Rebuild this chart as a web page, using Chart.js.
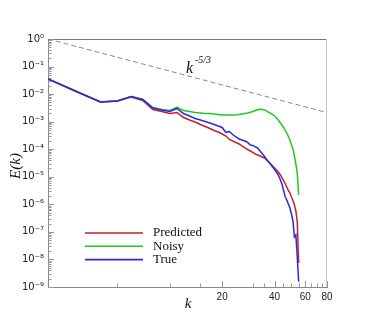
<!DOCTYPE html>
<html><head><meta charset="utf-8">
<script src="https://cdn.jsdelivr.net/npm/chart.js@4.4.1/dist/chart.umd.min.js"></script>
<style>html,body{margin:0;padding:0;background:#fff}</style>
</head><body>
<canvas id="c" width="366" height="325"></canvas>
<script>
// ---- data ----
const k = [2,3,4,5,6,7,8,9,10,11,12,13,14,15,16,17,18,19,20,21,22,23,24,25,26,27,28,29,30,31,32,33,34,35,36,37,38,39,40,41,42,43,44,45,46,47,48,49,50,51,52,53,54,55];
const predicted = [3.54e-2,1.15e-2,5.18e-3,5.63e-3,7.86e-3,5.87e-3,2.77e-3,2.34e-3,1.98e-3,2.15e-3,1.42e-3,1.15e-3,9.74e-4,7.90e-4,6.68e-4,5.66e-4,4.79e-4,4.22e-4,3.57e-4,3.02e-4,2.26e-4,1.99e-4,1.76e-4,1.55e-4,1.31e-4,1.11e-4,9.79e-5,8.64e-5,7.62e-5,6.72e-5,6.18e-5,5.69e-5,5.23e-5,4.81e-5,4.07e-5,3.44e-5,2.91e-5,2.47e-5,2.09e-5,1.77e-5,1.49e-5,1.21e-5,9.43e-6,7.34e-6,5.71e-6,4.27e-6,3.18e-6,2.58e-6,1.85e-6,1.38e-6,9.48e-7,5.74e-7,2.29e-7,7.46e-9];
const noisy = [3.54e-2,1.15e-2,5.18e-3,5.63e-3,8.20e-3,6.38e-3,3.27e-3,2.77e-3,2.54e-3,3.32e-3,2.54e-3,2.34e-3,2.15e-3,2.07e-3,1.98e-3,1.98e-3,1.90e-3,1.82e-3,1.75e-3,1.75e-3,1.75e-3,1.75e-3,1.78e-3,1.82e-3,1.90e-3,1.98e-3,2.07e-3,2.19e-3,2.34e-3,2.54e-3,2.72e-3,2.81e-3,2.74e-3,2.65e-3,2.48e-3,2.19e-3,2.01e-3,1.82e-3,1.61e-3,1.36e-3,1.15e-3,9.34e-4,7.58e-4,6.15e-4,4.79e-4,3.88e-4,2.90e-4,2.16e-4,1.43e-4,1.02e-4,5.69e-5,2.91e-5,1.37e-5,2.19e-6];
const trueE = [3.54e-2,1.15e-2,5.18e-3,5.63e-3,8.20e-3,6.38e-3,3.13e-3,2.65e-3,2.34e-3,3.01e-3,1.98e-3,1.61e-3,1.30e-3,1.15e-3,1.02e-3,8.96e-4,7.90e-4,6.97e-4,6.15e-4,4.10e-4,4.40e-4,3.43e-4,2.78e-4,2.35e-4,2.16e-4,1.99e-4,1.76e-4,1.43e-4,1.37e-4,1.21e-4,1.11e-4,8.64e-5,7.01e-5,5.45e-5,4.24e-5,3.44e-5,2.80e-5,2.27e-5,1.84e-5,1.49e-5,1.16e-5,8.32e-6,5.71e-6,3.32e-6,1.93e-6,1.44e-6,1.03e-6,7.38e-7,4.47e-7,2.49e-7,6.54e-8,7.73e-8,1.23e-8,1.56e-9];
const refK = [2, 80];
const refE = [1, 2.14e-3];
const xTicks = [20, 40, 60, 80];
const xMinorTicks = [5, 10, 15, 30, 35, 45, 50, 55, 65, 70, 75];
const yExponents = [0, -1, -2, -3, -4, -5, -6, -7, -8, -9];
const seriesLabels = ['Predicted', 'Noisy', 'True'];
const refLabel = ['k', '-5/3'];

const pts = (xs, ys) => xs.map((x, i) => ({x: x, y: ys[i]}));
const SUP = {'-':'\u207B','0':'\u2070','1':'\u00B9','2':'\u00B2','3':'\u00B3','4':'\u2074','5':'\u2075','6':'\u2076','7':'\u2077','8':'\u2078','9':'\u2079'};
const sup = s => String(s).split('').map(c => SUP[c] || c).join('');

const RED = '#c8202a', GREEN = '#22c822', BLUE = '#2a2ae0';

const decor = {
  id: 'decor',
  beforeDatasetsDraw(chart) {
    const {ctx, chartArea: a} = chart;
    const ys = chart.scales.y, xs = chart.scales.x;
    ctx.save();
    ctx.lineWidth = 1;
    ctx.strokeStyle = '#777';
    ctx.beginPath(); ctx.moveTo(a.left, a.top + 0.5); ctx.lineTo(a.right, a.top + 0.5); ctx.stroke();
    ctx.strokeStyle = '#c8c8c8';
    ctx.beginPath(); ctx.moveTo(a.right - 0.5, a.top); ctx.lineTo(a.right - 0.5, a.bottom); ctx.stroke();
    ctx.strokeStyle = '#999';
    for (const e of yExponents) {
      for (let m = 1; m <= 9; m++) {
        const v = m * Math.pow(10, e);
        if (v > 1.0000001) continue;
        const py = Math.round(ys.getPixelForValue(v)) + 0.5;
        const len = m === 1 ? 6 : 3.5;
        ctx.beginPath(); ctx.moveTo(a.left, py); ctx.lineTo(a.left + len, py); ctx.stroke();
      }
    }
    for (const t of xTicks) {
      const px = Math.round(xs.getPixelForValue(t)) + 0.5;
      ctx.beginPath(); ctx.moveTo(px, a.bottom); ctx.lineTo(px, a.bottom - 6); ctx.stroke();
    }
    for (const t of xMinorTicks) {
      const px = Math.round(xs.getPixelForValue(t)) + 0.5;
      ctx.beginPath(); ctx.moveTo(px, a.bottom); ctx.lineTo(px, a.bottom - 3.5); ctx.stroke();
    }
    ctx.restore();
  },
  afterDraw(chart) {
    const {ctx} = chart;
    ctx.save();
    ctx.fillStyle = '#111';
    // axis titles
    ctx.font = 'italic 15px "Liberation Serif", serif';
    ctx.textAlign = 'center'; ctx.textBaseline = 'middle';
    ctx.fillText('k', 188, 304);
    ctx.save();
    ctx.translate(16, 166); ctx.rotate(-Math.PI / 2);
    ctx.fillText('E(k)', 0, 0);
    ctx.restore();
    // reference slope label
    ctx.textAlign = 'left'; ctx.textBaseline = 'alphabetic';
    ctx.font = 'italic 16px "Liberation Serif", serif';
    ctx.fillText(refLabel[0], 186, 73);
    ctx.font = 'italic 10px "Liberation Serif", serif';
    ctx.fillText(refLabel[1], 195, 63);
    // legend
    const order = [1, 2, 0];
    ctx.font = '13px "Liberation Serif", serif';
    ctx.textBaseline = 'middle';
    order.forEach((di, i) => {
      const ds = chart.data.datasets[di];
      const y = 233 + i * 13.3;
      ctx.strokeStyle = ds.borderColor; ctx.lineWidth = 1.6;
      ctx.beginPath(); ctx.moveTo(85, y); ctx.lineTo(143, y); ctx.stroke();
      ctx.fillStyle = '#111';
      ctx.fillText(ds.label, 153, y);
    });
    ctx.restore();
  }
};

new Chart(document.getElementById('c'), {
  type: 'line',
  data: {
    datasets: [
      {label: seriesLabels[2], data: pts(k, trueE), borderColor: BLUE, borderWidth: 1.5, pointRadius: 0, order: 1},
      {label: seriesLabels[0], data: pts(k, predicted), borderColor: RED, borderWidth: 1.5, pointRadius: 0, order: 2},
      {label: seriesLabels[1], data: pts(k, noisy), borderColor: GREEN, borderWidth: 1.5, pointRadius: 0, order: 3},
      {label: 'k^-5/3', data: pts(refK, refE), borderColor: '#888', borderWidth: 1, borderDash: [5, 3], pointRadius: 0, order: 4}
    ]
  },
  options: {
    responsive: false,
    animation: false,
    devicePixelRatio: 1,
    layout: {padding: {top: 39, right: 39, left: 0, bottom: 0}},
    plugins: {legend: {display: false}, tooltip: {enabled: false}},
    elements: {line: {tension: 0}},
    scales: {
      x: {
        type: 'logarithmic', min: 2, max: 80,
        afterBuildTicks: s => { s.ticks = xTicks.map(v => ({value: v})); },
        afterFit: s => { s.height = 38; },
        grid: {display: false, drawTicks: false},
        border: {display: true, color: '#888', width: 1},
        ticks: {autoSkip: false, maxRotation: 0, padding: 4, color: '#222',
          font: {family: '"Liberation Sans", Arial, sans-serif', size: 10},
          callback: v => String(v)}
      },
      y: {
        type: 'logarithmic', min: 1e-9, max: 1,
        afterBuildTicks: s => { s.ticks = yExponents.map(e => ({value: Math.pow(10, e)})); },
        afterFit: s => { s.width = 48; },
        grid: {display: false, drawTicks: false},
        border: {display: true, color: '#888', width: 1},
        ticks: {autoSkip: false, padding: 4, color: '#222',
          font: {family: '"DejaVu Sans", "Liberation Sans", sans-serif', size: 10},
          callback: v => '10' + sup(Math.round(Math.log10(v)))}
      }
    }
  },
  plugins: [decor]
});
</script>
</body></html>
